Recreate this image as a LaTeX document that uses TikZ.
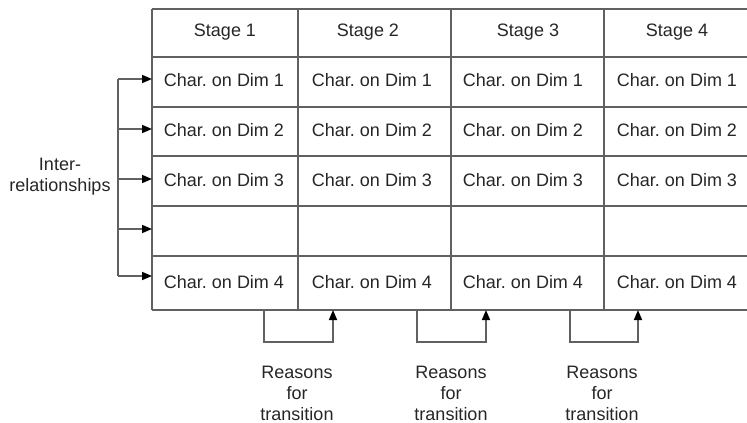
\documentclass[tikz,border=0pt]{standalone}
\usepackage{fontspec}
\setmainfont{Liberation Sans}
\usetikzlibrary{arrows.meta}
\frenchspacing
\begin{document}
\begin{tikzpicture}[x=1pt,y=-1pt,
  every node/.style={font=\fontsize{18}{21}\selectfont, inner sep=0pt, text=black!85},
  gridline/.style={draw=black!62, line width=1.6pt},
  link/.style={draw=black!62, line width=1.6pt,
    -{Triangle[length=10pt,width=8pt,color=black]}},
  note/.style={align=center}
]
\useasboundingbox (0,0) rectangle (747,423);

% table grid (right side runs off the page)
\foreach \y in {9,57,107,156,206,256,310}
  \draw[gridline] (152,\y) -- (747,\y);
\foreach \x in {152,298,451,604}
  \draw[gridline] (\x,9) -- (\x,310);

% column headings
\node (h1) at (225,32) {Stage 1};
\node (h2) at (368,32) {Stage 2};
\node (h3) at (528,32) {Stage 3};
\node (h4) at (677,32) {Stage 4};

% cell contents
\foreach \c/\x in {1/224,2/372,3/523,4/677}{
  \node (c1\c) at (\x,80)  {Char. on Dim 1};
  \node (c2\c) at (\x,130) {Char. on Dim 2};
  \node (c3\c) at (\x,180) {Char. on Dim 3};
  \node (c5\c) at (\x,282) {Char. on Dim 4};
}

% inter-relationship bracket on the left
\node[note] (inter) at (60,177) {Inter-\\relationships};
\foreach \i/\y in {1/79,2/129,3/179,4/229,5/276}{
  \coordinate (b\i) at (118,\y);
  \coordinate (t\i) at (152,\y);
}
\draw[gridline] (b1) -- (b5);
\foreach \i in {1,...,5}
  \draw[link] (b\i) -- (t\i);

% transitions between stages
\foreach \k/\l/\r/\m in {1/264/333/297,2/417/486/451,3/570/638/602}{
  \coordinate (s\k) at (\l,310);
  \coordinate (sl\k) at (\l,342);
  \coordinate (sr\k) at (\r,342);
  \coordinate (e\k) at (\r,310);
  \draw[link] (s\k) -- (sl\k) -- (sr\k) -- (e\k);
  \node[note] (why\k) at (\m,393) {Reasons\\for\\transition};
}
\end{tikzpicture}
\end{document}
